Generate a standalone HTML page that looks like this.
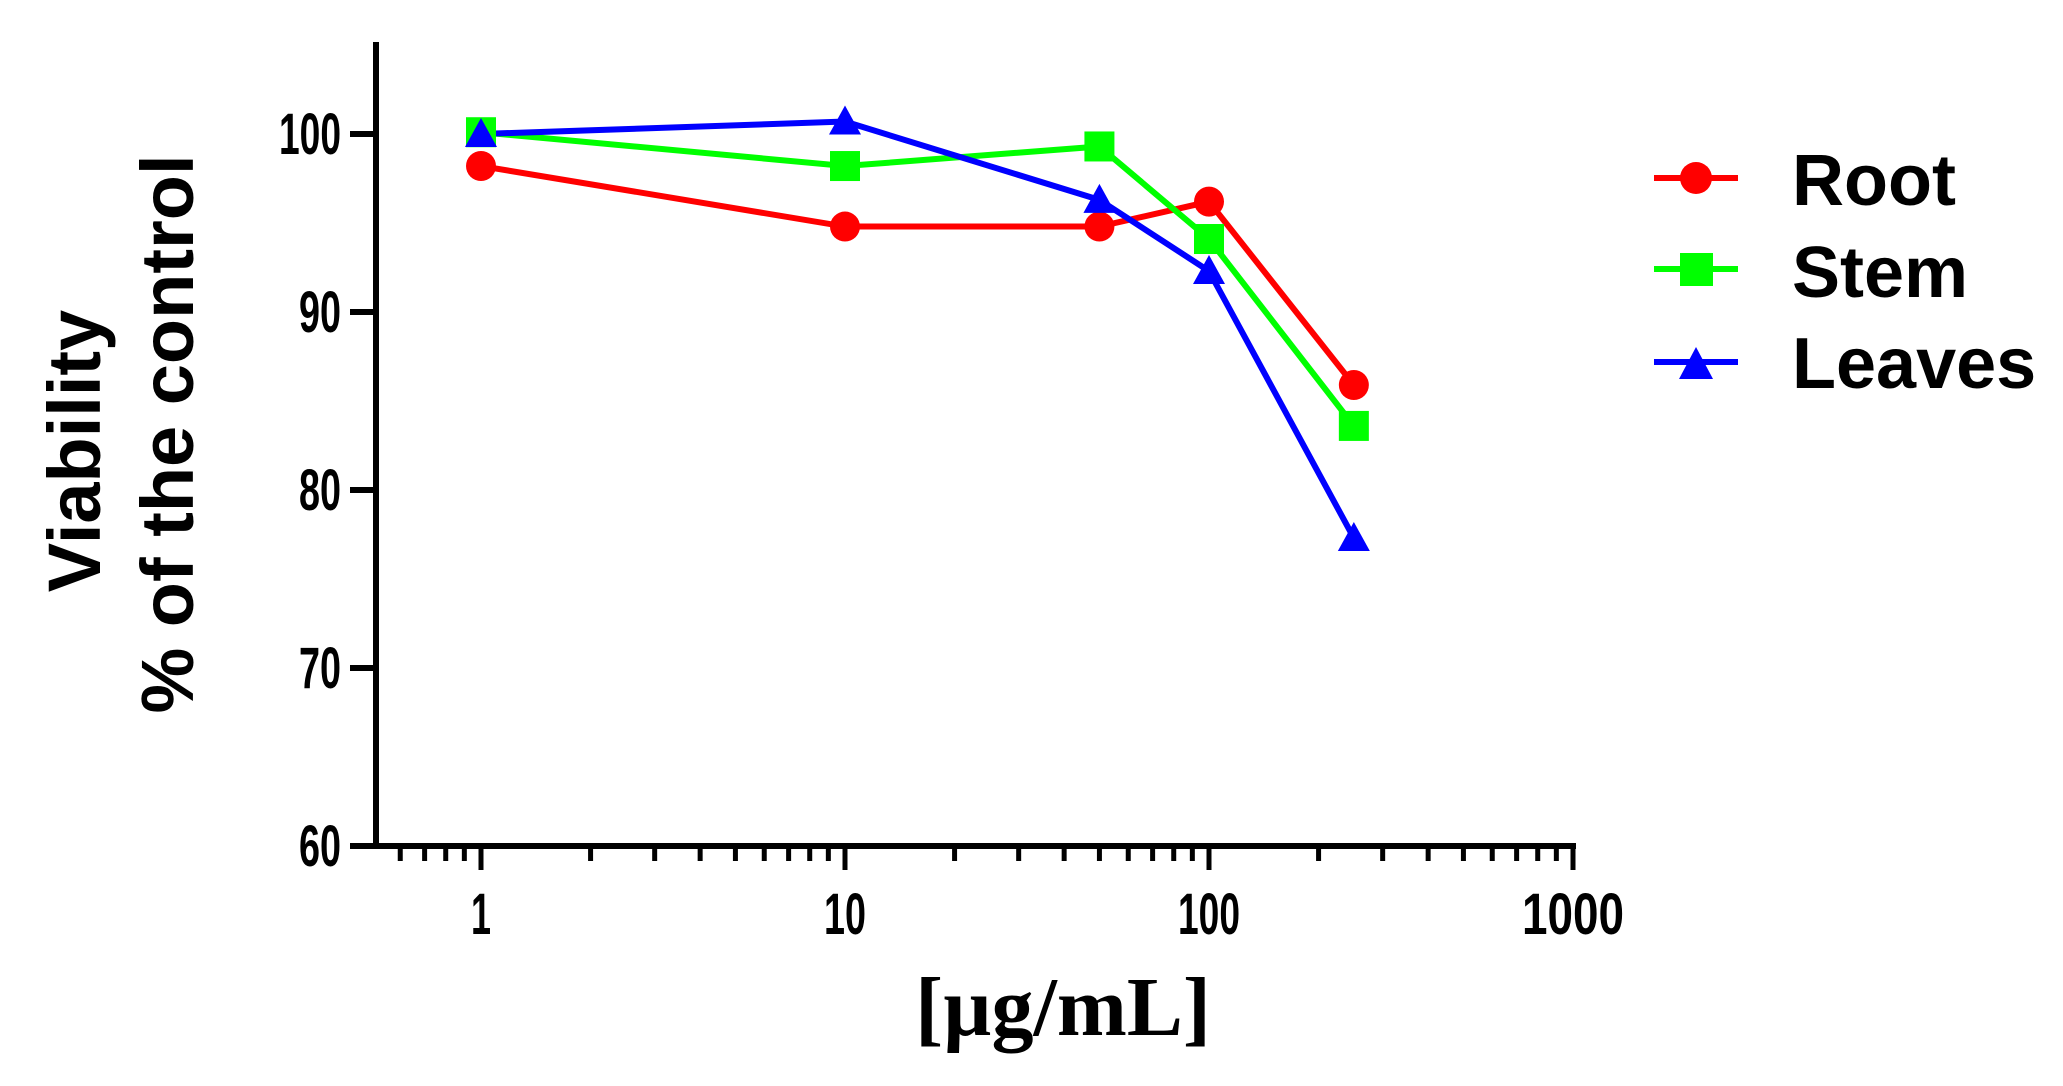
<!DOCTYPE html>
<html><head><meta charset="utf-8"><style>
html,body{margin:0;padding:0;background:#fff;}
svg{display:block;}
</style></head><body>
<svg width="2063" height="1086" xmlns="http://www.w3.org/2000/svg">
<g stroke="#000" stroke-width="6" fill="none">
<line x1="376" y1="42" x2="376" y2="849"/>
<line x1="373" y1="846" x2="1576" y2="846"/>
<line x1="350" y1="134" x2="376" y2="134"/>
<line x1="350" y1="312" x2="376" y2="312"/>
<line x1="350" y1="490" x2="376" y2="490"/>
<line x1="350" y1="668" x2="376" y2="668"/>
<line x1="350" y1="846" x2="376" y2="846"/>
</g>
<g stroke="#000" stroke-width="5" id="xt"></g>
<g font-family="Liberation Sans, Arial, sans-serif" font-weight="bold" font-size="58" fill="#000">
<text x="341" y="154" text-anchor="end" textLength="62" lengthAdjust="spacingAndGlyphs">100</text>
<text x="341" y="332" text-anchor="end" textLength="42" lengthAdjust="spacingAndGlyphs">90</text>
<text x="341" y="510" text-anchor="end" textLength="42" lengthAdjust="spacingAndGlyphs">80</text>
<text x="341" y="688" text-anchor="end" textLength="42" lengthAdjust="spacingAndGlyphs">70</text>
<text x="341" y="866" text-anchor="end" textLength="42" lengthAdjust="spacingAndGlyphs">60</text>
<text x="481" y="934" text-anchor="middle" textLength="20" lengthAdjust="spacingAndGlyphs">1</text>
<text x="845" y="934" text-anchor="middle" textLength="42" lengthAdjust="spacingAndGlyphs">10</text>
<text x="1209" y="934" text-anchor="middle" textLength="62" lengthAdjust="spacingAndGlyphs">100</text>
<text x="1573" y="934" text-anchor="middle" textLength="102" lengthAdjust="spacingAndGlyphs">1000</text>
</g>
<g font-family="Liberation Sans, Arial, sans-serif" font-weight="bold" font-size="74" fill="#000">
<text transform="translate(100,451) rotate(-90)" text-anchor="middle">Viability</text>
<text transform="translate(193,434) rotate(-90)" text-anchor="middle">% of the control</text>
</g>
<text x="1063" y="1035" text-anchor="middle" font-family="Liberation Serif, serif" font-weight="bold" font-size="84">[µg/mL]</text>
<g id="data"></g>
<g font-family="Liberation Sans, Arial, sans-serif" font-weight="bold" font-size="72" fill="#000">
<text x="1792" y="205">Root</text>
<text x="1792" y="297">Stem</text>
<text x="1792" y="388">Leaves</text>
</g>
<line x1="1654" y1="178" x2="1738" y2="178" stroke="#f00" stroke-width="6"/>
<circle cx="1696" cy="178" r="16" fill="#f00"/>
<line x1="1654" y1="269" x2="1738" y2="269" stroke="#0f0" stroke-width="6"/>
<rect x="1680" y="253" width="33" height="33" fill="#0f0"/>
<line x1="1654" y1="362" x2="1738" y2="362" stroke="#00f" stroke-width="6"/>
<polygon points="1696,347 1713,379 1679,379" fill="#00f"/>
<script>
(function(){
var ns="http://www.w3.org/2000/svg";
function X(v){return 481+364*Math.log10(v);}
function Y(v){return 846-(v-60)*17.8;}
var xt=document.getElementById('xt');
function tk(x,len){var l=document.createElementNS(ns,'line');l.setAttribute('x1',x);l.setAttribute('x2',x);l.setAttribute('y1',846);l.setAttribute('y2',846+len);xt.appendChild(l);}
[0.6,0.7,0.8,0.9].forEach(function(v){tk(X(v),15);});
[1,10,100,1000].forEach(function(d){tk(X(d),24);if(d<1000)for(var k=2;k<10;k++)tk(X(d*k),15);});
var xs=[1,10,50,100,250];
var S=[
 {c:'#f00',v:[98.2,94.8,94.8,96.2,85.9],m:'c'},
 {c:'#0f0',v:[100.1,98.2,99.3,94.1,83.6],m:'s'},
 {c:'#00f',v:[100,100.7,96.3,92.3,77.3],m:'t'}];
var g=document.getElementById('data');
S.forEach(function(s){
 var p=xs.map(function(x,i){return X(x)+','+Y(s.v[i]);}).join(' ');
 var pl=document.createElementNS(ns,'polyline');pl.setAttribute('points',p);pl.setAttribute('fill','none');pl.setAttribute('stroke',s.c);pl.setAttribute('stroke-width','6');g.appendChild(pl);
});
S.forEach(function(s){
 xs.forEach(function(x,i){
  var cx=X(x),cy=Y(s.v[i]),e;
  if(s.m=='c'){e=document.createElementNS(ns,'circle');e.setAttribute('cx',cx);e.setAttribute('cy',cy);e.setAttribute('r',15);}
  else if(s.m=='s'){e=document.createElementNS(ns,'rect');e.setAttribute('x',cx-15);e.setAttribute('y',cy-15);e.setAttribute('width',30);e.setAttribute('height',30);}
  else{e=document.createElementNS(ns,'polygon');e.setAttribute('points',cx+','+(cy-16)+' '+(cx+16)+','+(cy+13)+' '+(cx-16)+','+(cy+13));}
  e.setAttribute('fill',s.c);g.appendChild(e);
 });
});
})();
</script>
</svg>
</body></html>
